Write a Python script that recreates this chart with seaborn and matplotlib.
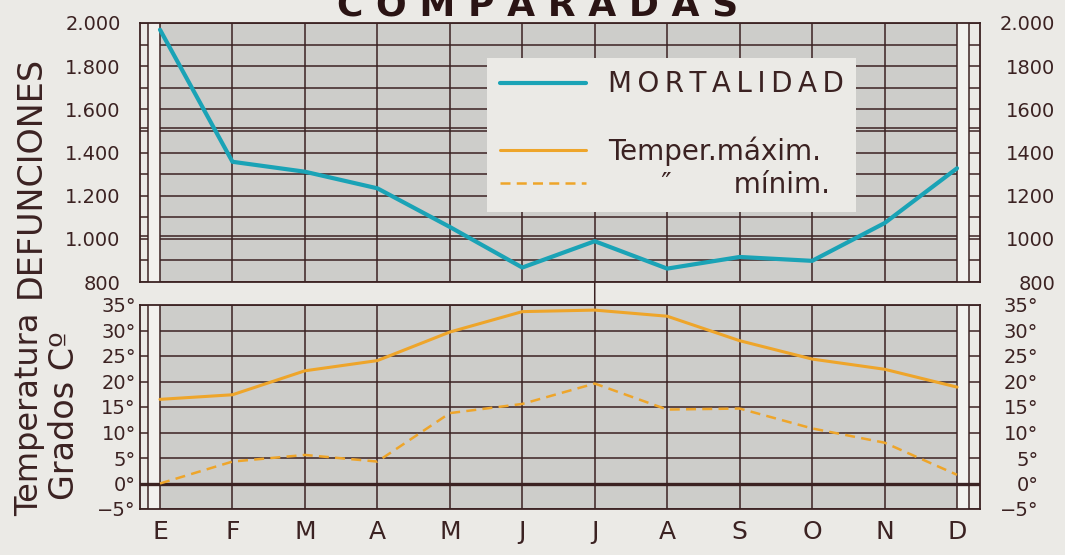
import pandas as pd
import seaborn as sns
import matplotlib.pyplot as plt
from matplotlib.lines import Line2D
from matplotlib.patches import ConnectionPatch

# -------------------------------------------------
# 1. Data
# -------------------------------------------------
months = ["E", "F", "M", "A", "M", "J", "J", "A", "S", "O", "N", "D"]
mortalidad = [1969, 1357, 1311, 1234, 1055, 867, 989, 862, 916, 898, 1073, 1327]
temp_max = [16.5, 17.4, 22.1, 24.1, 29.7, 33.7, 34.0, 32.8, 28.0, 24.4, 22.4, 18.9]
temp_min = [0.0, 4.3, 5.6, 4.3, 13.8, 15.6, 19.6, 14.5, 14.7, 10.8, 8.0, 1.7]

defun_ticks = [2000, 1800, 1600, 1400, 1200, 1000, 800]
defun_left_labels = ["2.000", "1.800", "1.600", "1.400", "1.200", "1.000", "800"]
defun_right_labels = ["2.000", "1800", "1600", "1400", "1200", "1000", "800"]
temp_ticks = [35, 30, 25, 20, 15, 10, 5, 0, -5]
temp_labels = ["35°", "30°", "25°", "20°", "15°", "10°", "5°", "0°", "−5°"]

df = pd.DataFrame({
    "pos": range(len(months)),
    "mes": months,
    "mortalidad": mortalidad,
    "tmax": temp_max,
    "tmin": temp_min,
})

# -------------------------------------------------
# 2. Style
# -------------------------------------------------
sns.set_style("white")
plt.rcParams["font.family"] = ["DejaVu Sans"]

page = "#ebeae6"
panel = "#cdcdca"
strip = "#f2f1ee"
ink = "#3b2222"
cyan = "#1aa3b6"
orange = "#eea52a"

fig = plt.figure(figsize=(10.65, 5.55), dpi=100, facecolor=page)
ax_top = fig.add_axes([140 / 1065, 1 - 282 / 555, 840 / 1065, 259 / 555])
ax_bot = fig.add_axes([140 / 1065, 1 - 509 / 555, 840 / 1065, 204 / 555])

x_lo, x_hi = -0.276, 11.317
strip_l, strip_r = -0.166, 11.17


def paper(ax, hlines, ylim):
    ax.set_facecolor(page)
    ax.set_xlim(x_lo, x_hi)
    ax.set_ylim(*ylim)
    ax.axvspan(0, 11, color=panel, lw=0, zorder=0)
    for h in hlines:
        ax.axhline(h, color=ink, lw=1.1, zorder=1)
    ax.axvspan(strip_l, 0, color=strip, lw=0, zorder=1.5)
    ax.axvspan(11, strip_r, color=strip, lw=0, zorder=1.5)
    for v in [strip_l] + list(range(12)) + [strip_r]:
        ax.axvline(v, color=ink, lw=1.1, zorder=2)
    for s in ax.spines.values():
        s.set_color(ink)
        s.set_linewidth(1.3)
        s.set_visible(True)
    ax.tick_params(length=0)


paper(ax_top, list(range(800, 2001, 100)) + [1512, 1012], (800, 2000))
paper(ax_bot, list(range(-5, 36, 5)), (-5, 35))
ax_bot.axhline(0, color=ink, lw=2.4, zorder=2)

# -------------------------------------------------
# 3. Lines
# -------------------------------------------------
sns.lineplot(data=df, x="pos", y="mortalidad", ax=ax_top, color=cyan, lw=3.0, zorder=3)
sns.lineplot(data=df, x="pos", y="tmax", ax=ax_bot, color=orange, lw=2.2, zorder=3)
sns.lineplot(data=df, x="pos", y="tmin", ax=ax_bot, color=orange, lw=1.8,
             linestyle=(0, (4, 2.5)), zorder=3)

# -------------------------------------------------
# 4. Axes text
# -------------------------------------------------
for ax in (ax_top, ax_bot):
    ax.set_xlabel("")
    ax.set_ylabel("")

ax_top.set_xticks(range(12))
ax_top.set_xticklabels([])
ax_top.set_yticks(defun_ticks)
ax_top.set_yticklabels(defun_left_labels, fontsize=14, color=ink)
ax_top.tick_params(axis="y", pad=14)

ax_bot.set_xticks(range(12))
ax_bot.set_xticklabels(months, fontsize=18, color=ink)
ax_bot.tick_params(axis="x", pad=8)
ax_bot.set_yticks(temp_ticks)
ax_bot.set_yticklabels(temp_labels, fontsize=14, color=ink)
ax_bot.tick_params(axis="y", pad=3)

tw_top = ax_top.twinx()
tw_top.set_ylim(800, 2000)
tw_top.set_yticks(defun_ticks)
tw_top.set_yticklabels(defun_right_labels, fontsize=14, color=ink, ha="right")
tw_top.tick_params(length=0, pad=54)

tw_bot = ax_bot.twinx()
tw_bot.set_ylim(-5, 35)
tw_bot.set_yticks(temp_ticks)
tw_bot.set_yticklabels(temp_labels, fontsize=14, color=ink, ha="right")
tw_bot.tick_params(length=0, pad=42)

for tw in (tw_top, tw_bot):
    for s in tw.spines.values():
        s.set_visible(False)

# July rule runs through the gap between panels
con = ConnectionPatch(xyA=(6, 800), coordsA=ax_top.transData,
                      xyB=(6, 35), coordsB=ax_bot.transData,
                      color=ink, lw=1.1)
fig.add_artist(con)

fig.text(30 / 1065, 1 - 177 / 555, "DEFUNCIONES", rotation=90, fontsize=24,
         color=ink, ha="center", va="center")
fig.text(30 / 1065, 1 - 414 / 555, "Temperatura", rotation=90, fontsize=23,
         color=ink, ha="center", va="center")
fig.text(64 / 1065, 1 - 416 / 555, "Grados Cº", rotation=90, fontsize=24,
         color=ink, ha="center", va="center")

# title, mostly cut off by the top edge
fig.text(538 / 1065, 1 - 15 / 555, " ".join("COMPARADAS"), fontsize=26,
         fontweight="bold", color="#2a1414", ha="center", va="baseline")

# -------------------------------------------------
# 5. Legend (on the twin so it sits above the grid)
# -------------------------------------------------
handles = [
    Line2D([], [], color=cyan, lw=3.0),
    Line2D([], [], color="none"),
    Line2D([], [], color=orange, lw=2.2),
    Line2D([], [], color=orange, lw=1.8, linestyle=(0, (4, 2.5))),
]
labels = [
    "\u2009".join("MORTALIDAD"),
    " ",
    "Temper.máxim.",
    "      ″       mínim.",
]
leg = tw_top.legend(handles, labels, loc="upper left",
                    bbox_to_anchor=(487 / 1065, 1 - 58 / 555),
                    bbox_transform=fig.transFigure, borderaxespad=0,
                    frameon=True, fancybox=False, facecolor=page,
                    edgecolor="none", framealpha=1, fontsize=20,
                    handlelength=3.1, handletextpad=0.8,
                    labelspacing=0.18, borderpad=0.45)
for t in leg.get_texts():
    t.set_color(ink)
leg.set_zorder(10)

fig.savefig("out.png", dpi=100, facecolor=page)
